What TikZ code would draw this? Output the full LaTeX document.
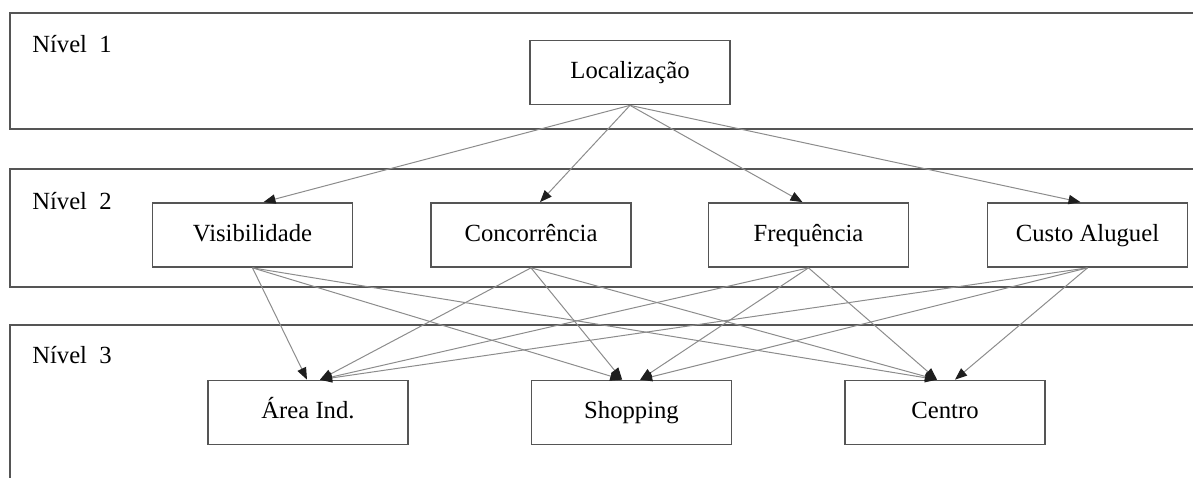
\documentclass[tikz,border=0pt]{standalone}
\usepackage{fontspec}
\setmainfont{Liberation Serif}
\usetikzlibrary{arrows.meta}
\definecolor{framegray}{RGB}{85,85,85}
\definecolor{linkgray}{RGB}{140,140,140}
\definecolor{tipblack}{RGB}{30,30,30}
\tikzset{
  levelframe/.style={draw=framegray, line width=1.3pt},
  critbox/.style={draw=framegray, line width=1.3pt, fill=white, minimum width=150pt, minimum height=48pt, inner sep=0pt, text height=13pt, text depth=4pt, font=\fontsize{18.5}{22}\selectfont},
  levellabel/.style={anchor=base west, inner sep=0pt, font=\fontsize{18.5}{22}\selectfont},
  link/.style={draw=linkgray, line width=0.75pt, -{Triangle[length=9pt,width=7pt,color=tipblack]}}
}
\begin{document}
\begin{tikzpicture}[x=0.75pt,y=0.75pt,yscale=-1,xscale=1]
    \useasboundingbox (0,0) rectangle (1193,478);

    %Shape: Rectangle [level 1]
    \draw [levelframe] (10,13) rectangle (1210,129);
    %Shape: Rectangle [level 2]
    \draw [levelframe] (10,169) rectangle (1210,287);
    %Shape: Rectangle [level 3]
    \draw [levelframe] (10,325) rectangle (1210,495);

    % Text Node
    \node [levellabel] (lab1) at (32,53) {Nível~~1};
    % Text Node
    \node [levellabel] (lab2) at (32,209) {Nível~~2};
    % Text Node
    \node [levellabel] (lab3) at (32,363) {Nível~~3};

    % Goal
    \node [critbox] (loc) at (630,72.5) {Localização};
    % Criteria
    \node [critbox] (vis) at (252.5,235) {Visibilidade};
    \node [critbox] (conc) at (531,235) {Concorrência};
    \node [critbox] (freq) at (808.5,235) {Frequência};
    \node [critbox] (custo) at (1087.5,235) {Custo Aluguel};
    % Alternatives
    \node [critbox] (aind) at (308,412.5) {Área Ind.};
    \node [critbox] (shop) at (631.5,412.5) {Shopping};
    \node [critbox] (centro) at (945,412.5) {Centro};

    %Straight Lines [level 1 -> level 2]
    \draw [link] (loc.south) -- ([xshift=8.25pt]vis.north);
    \draw [link] (loc.south) -- ([xshift=6.75pt]conc.north);
    \draw [link] (loc.south) -- ([xshift=-4.5pt]freq.north);
    \draw [link] (loc.south) -- ([xshift=-5.25pt]custo.north);

    %Straight Lines [level 2 -> Area Ind.]
    \draw [link] (vis.south) -- ([xshift=-0.75pt]aind.north);
    \draw [link] (conc.south) -- ([xshift=9pt]aind.north);
    \draw [link] (freq.south) -- ([xshift=9pt]aind.north);
    \draw [link] (custo.south) -- ([xshift=9pt]aind.north);
    %Straight Lines [level 2 -> Shopping]
    \draw [link] (vis.south) -- ([xshift=-7pt]shop.north);
    \draw [link] (conc.south) -- ([xshift=-7pt]shop.north);
    \draw [link] (freq.south) -- ([xshift=6.5pt]shop.north);
    \draw [link] (custo.south) -- ([xshift=6.5pt]shop.north);
    %Straight Lines [level 2 -> Centro]
    \draw [link] (vis.south) -- ([xshift=-6pt]centro.north);
    \draw [link] (conc.south) -- ([xshift=-6pt]centro.north);
    \draw [link] (freq.south) -- ([xshift=-6pt]centro.north);
    \draw [link] (custo.south) -- ([xshift=7.5pt]centro.north);

\end{tikzpicture}
\end{document}
